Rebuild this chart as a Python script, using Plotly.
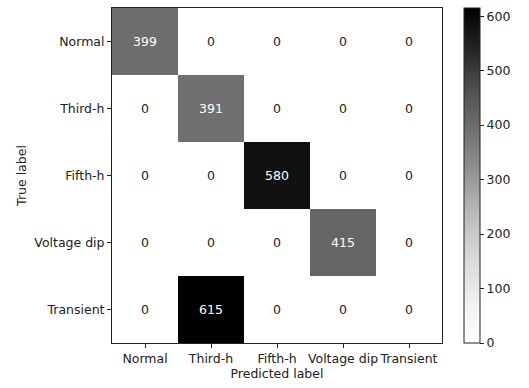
import plotly.graph_objects as go

# Class names shared by both axes
classes = ["Normal", "Third-h", "Fifth-h", "Voltage dip", "Transient"]

# Confusion matrix counts: rows = true label, columns = predicted label
row_normal = [399, 0, 0, 0, 0]
row_third = [0, 391, 0, 0, 0]
row_fifth = [0, 0, 580, 0, 0]
row_dip = [0, 0, 0, 415, 0]
row_transient = [0, 615, 0, 0, 0]
counts = [row_normal, row_third, row_fifth, row_dip, row_transient]

colorbar_ticks = [0, 100, 200, 300, 400, 500, 600]

# matplotlib "Greys" colormap stops (white -> black)
greys = ["#ffffff", "#f0f0f0", "#d9d9d9", "#bdbdbd", "#969696",
         "#737373", "#525252", "#252525", "#000000"]
colorscale = [[i / (len(greys) - 1), c] for i, c in enumerate(greys)]

W, H = 529, 388
left, right, top, bottom = 112, 442, 8, 343

zmin = 0
zmax = max(max(r) for r in counts)
threshold = (zmax + zmin) / 2

FONT = "DejaVu Sans"
FS = 12.5

fig = go.Figure()
fig.add_trace(go.Heatmap(
    z=counts,
    x=classes,
    y=classes,
    colorscale=colorscale,
    zmin=zmin,
    zmax=zmax,
    showscale=True,
    colorbar=dict(
        x=464 / W, xref="container", xanchor="left",
        y=0, yref="paper", yanchor="bottom",
        len=1, lenmode="fraction",
        thickness=16, thicknessmode="pixels",
        outlinewidth=1, outlinecolor="#222222",
        tickvals=colorbar_ticks,
        ticks="outside", ticklen=4, tickwidth=1, tickcolor="#222222",
        tickfont=dict(family=FONT, size=FS, color="#222222"),
        xpad=0, ypad=0,
    ),
    hoverinfo="skip",
))

# Cell value labels, white on dark cells and black on light cells
annotations = []
for i, row in enumerate(counts):
    for j, v in enumerate(row):
        annotations.append(dict(
            x=classes[j], y=classes[i], text=str(v), showarrow=False,
            font=dict(family=FONT, size=FS,
                      color="#ffffff" if v > threshold else "#222222"),
        ))

fig.update_layout(
    width=W, height=H,
    margin=dict(l=left, r=W - right, t=top, b=H - bottom, pad=0),
    paper_bgcolor="white",
    plot_bgcolor="white",
    font=dict(family=FONT, size=FS, color="#222222"),
    annotations=annotations,
    xaxis=dict(
        title=dict(text="Predicted label", standoff=3,
                   font=dict(family=FONT, size=FS)),
        tickmode="array", tickvals=classes, ticktext=classes,
        tickangle=0, automargin=False,
        ticks="outside", ticklen=4, tickwidth=1, tickcolor="#222222",
        showline=True, mirror=True, linecolor="#222222", linewidth=1,
        showgrid=False, zeroline=False,
        tickfont=dict(family=FONT, size=FS),
    ),
    yaxis=dict(
        title=dict(text="True label", standoff=4,
                   font=dict(family=FONT, size=FS)),
        autorange="reversed", automargin=False,
        tickmode="array", tickvals=classes, ticktext=classes,
        ticks="outside", ticklen=4, tickwidth=1, tickcolor="#222222",
        showline=True, mirror=True, linecolor="#222222", linewidth=1,
        showgrid=False, zeroline=False,
        tickfont=dict(family=FONT, size=FS),
    ),
)

fig.write_html("out.html")
